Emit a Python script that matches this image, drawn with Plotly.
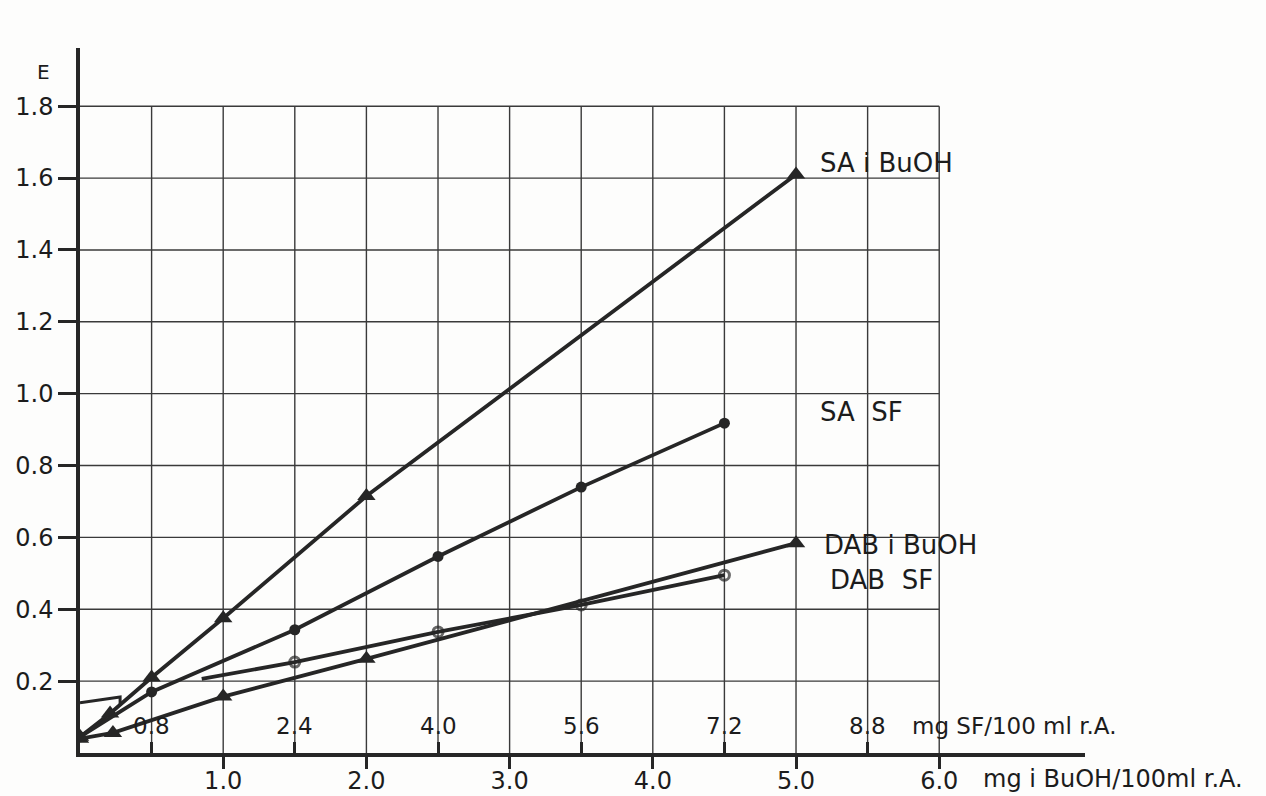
import plotly.graph_objects as go

# ---- data ----
buoh_ticks = [1.0, 2.0, 3.0, 4.0, 5.0, 6.0]
sf_ticks = [0.8, 2.4, 4.0, 5.6, 7.2, 8.8]
e_ticks = [0.2, 0.4, 0.6, 0.8, 1.0, 1.2, 1.4, 1.6, 1.8]
grid_x = [0.5, 1.0, 1.5, 2.0, 2.5, 3.0, 3.5, 4.0, 4.5, 5.0, 5.5, 6.0]

sa_buoh_x = [0, 0.21, 0.5, 1.0, 2.0, 5.0]
sa_buoh_y = [0.045, 0.11, 0.21, 0.375, 0.715, 1.61]

sa_sf_x = [0, 0.8, 2.4, 4.0, 5.6, 7.2]
sa_sf_y = [0.045, 0.17, 0.343, 0.547, 0.74, 0.918]

dab_buoh_x = [0, 0.23, 1.0, 2.0, 5.0]
dab_buoh_y = [0.04, 0.056, 0.157, 0.262, 0.584]

dab_sf_x = [1.36, 2.4, 4.0, 5.6, 7.2]
dab_sf_y = [0.206, 0.253, 0.337, 0.412, 0.495]
dab_sf_msize = [0, 10, 10, 10, 10]

hook_x = [0, 0.28, 0.28]
hook_y = [0.14, 0.156, 0.134]

INK = "#262626"
TXT = "#1c1c1c"
FONT = "DejaVu Sans, Verdana, sans-serif"
XMAX = 7.018
SF_PER_BUOH = 1.6
YMAX = 1.962
SF_LABEL_Y = 0.075

fig = go.Figure()

# grid
shapes = []
for yv in e_ticks:
    shapes.append(dict(type="line", xref="x", yref="y", x0=0, x1=6.0, y0=yv, y1=yv,
                       line=dict(color="#3a3a3a", width=1.4), layer="below"))
for xv in grid_x:
    shapes.append(dict(type="line", xref="x", yref="y", x0=xv, x1=xv, y0=0, y1=1.8,
                       line=dict(color="#3a3a3a", width=1.4), layer="below"))

# series
fig.add_trace(go.Scatter(x=sa_buoh_x, y=sa_buoh_y, mode="lines+markers", xaxis="x", yaxis="y",
                         line=dict(color=INK, width=3.8),
                         marker=dict(symbol="triangle-up", size=16, color=INK), showlegend=False))
fig.add_trace(go.Scatter(x=dab_buoh_x, y=dab_buoh_y, mode="lines+markers", xaxis="x", yaxis="y",
                         line=dict(color=INK, width=3.8),
                         marker=dict(symbol="triangle-up", size=16, color=INK), showlegend=False))
fig.add_trace(go.Scatter(x=sa_sf_x, y=sa_sf_y, mode="lines+markers", xaxis="x2", yaxis="y",
                         line=dict(color=INK, width=3.8),
                         marker=dict(symbol="circle", size=11, color=INK), showlegend=False))
fig.add_trace(go.Scatter(x=dab_sf_x, y=dab_sf_y, mode="lines+markers", xaxis="x2", yaxis="y",
                         line=dict(color=INK, width=3.8),
                         marker=dict(symbol="circle-open", size=dab_sf_msize, color=INK,
                                     line=dict(width=3, color=INK)), showlegend=False))
fig.add_trace(go.Scatter(x=hook_x, y=hook_y, mode="lines", xaxis="x", yaxis="y",
                         line=dict(color=INK, width=3), showlegend=False))

ann = []
lab = dict(font=dict(family=FONT, size=26, color=TXT), showarrow=False,
           xanchor="left", yanchor="middle")
ann.append(dict(text="SA i BuOH", xref="x", yref="y", x=5.15, y=1.642, **lab))
ann.append(dict(text="SA&nbsp;&nbsp;SF", xref="x", yref="y", x=5.15, y=0.949, **lab))
ann.append(dict(text="DAB i BuOH", xref="x", yref="y", x=5.18, y=0.579, **lab))
ann.append(dict(text="DAB&nbsp;&nbsp;SF", xref="x", yref="y", x=5.22, y=0.481, **lab))
for v in sf_ticks:
    ann.append(dict(text=f"{v:.1f}", xref="x2", yref="y", x=v, y=SF_LABEL_Y,
                    font=dict(family=FONT, size=23, color=TXT), showarrow=False,
                    xanchor="center", yanchor="middle"))
ann.append(dict(text="mg SF/100 ml r.A.", xref="paper", yref="y", x=0.826, y=SF_LABEL_Y,
                font=dict(family=FONT, size=23, color=TXT), showarrow=False,
                xanchor="left", yanchor="middle"))
ann.append(dict(text="mg i BuOH/100ml r.A.", xref="paper", yref="paper", x=0.897, y=-0.037,
                font=dict(family=FONT, size=24, color=TXT), showarrow=False,
                xanchor="left", yanchor="middle"))
ann.append(dict(text="E", xref="paper", yref="paper", x=-0.036, y=0.966,
                font=dict(family=FONT, size=20, color=TXT), showarrow=False,
                xanchor="center", yanchor="middle"))

fig.update_layout(
    width=1266, height=796,
    margin=dict(l=80, r=181, t=48, b=43),
    paper_bgcolor="#fdfdfc", plot_bgcolor="#fdfdfc",
    shapes=shapes, annotations=ann,
    font=dict(family=FONT, color=TXT),
    xaxis=dict(range=[0, XMAX], showgrid=False, zeroline=False, showline=True, automargin=False,
               linecolor=INK, linewidth=3.5, ticks="outside", ticklen=12, tickwidth=3,
               tickcolor=INK, tickvals=buoh_ticks, ticktext=[f"{v:.1f}" for v in buoh_ticks],
               tickfont=dict(family=FONT, size=24), ticklabelstandoff=-9),
    xaxis2=dict(range=[0, XMAX * SF_PER_BUOH], overlaying="x", anchor="y", side="bottom",
                automargin=False,
                showgrid=False, zeroline=False, showline=False, showticklabels=False,
                ticks="inside", ticklen=11, tickwidth=2.5, tickcolor=INK, tickvals=sf_ticks),
    yaxis=dict(range=[0, YMAX], showgrid=False, zeroline=False, showline=True, automargin=False,
               linecolor=INK, linewidth=3.5, ticks="outside", ticklen=18, tickwidth=3,
               tickcolor=INK, tickvals=e_ticks, ticktext=[f"{v:.1f}" for v in e_ticks],
               tickfont=dict(family=FONT, size=24)),
)

fig.write_html("out.html", config={"displayModeBar": False},
               post_script="document.body.style.margin='0';document.body.style.overflow='hidden';")
